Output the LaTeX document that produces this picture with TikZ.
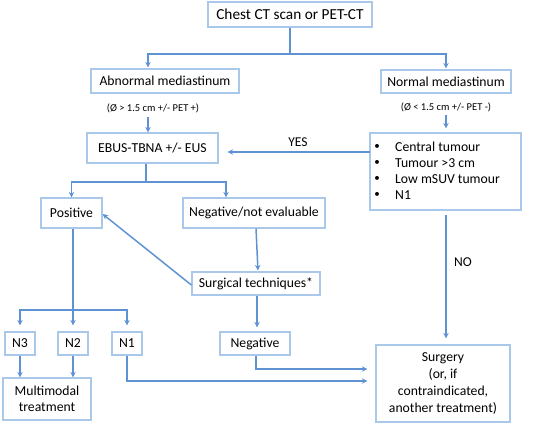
\documentclass[tikz,border=0pt]{standalone}
\usepackage{fontspec}
\setmainfont{Carlito}
\usetikzlibrary{arrows.meta}
\definecolor{boxc}{HTML}{A9C8EA}
\definecolor{arrc}{HTML}{5E92D2}
\begin{document}
\begin{tikzpicture}[x=1pt,y=-1pt,
  bx/.style={draw=boxc,line width=1.2pt,inner sep=0pt,align=center,font=\fontsize{13.7}{16.5}\selectfont},
  ln/.style={draw=arrc,line width=1.5pt},
  ar/.style={ln,-{Stealth[length=5.5pt,width=5.5pt]}},
  note/.style={font=\fontsize{10.5}{12}\selectfont,inner sep=0pt},
  lab/.style={font=\fontsize{13.5}{15}\selectfont,inner sep=0pt}]
\useasboundingbox (0,0) rectangle (553,424);
\node[bx,minimum width=164pt,minimum height=25pt,font=\fontsize{15.3}{18}\selectfont] (chest) at (290,14.5) {Chest CT scan or PET-CT};
\node[bx,minimum width=148pt,minimum height=24pt] (abn) at (165,81) {Abnormal mediastinum};
\node[bx,minimum width=130pt,minimum height=23pt] (norm) at (446,81.5) {Normal mediastinum};
\node[note] (abnnote) at (153,108) {(Ø > 1.5 cm +/- PET +)};
\node[note] (normnote) at (446,107) {(Ø < 1.5 cm +/- PET -)};
\node[bx,minimum width=131pt,minimum height=30pt] (ebus) at (152.5,148) {EBUS-TBNA +/- EUS};
\node[draw=boxc,line width=1.2pt,minimum width=151pt,minimum height=77pt,inner sep=0pt] (list) at (445.5,171.5) {};
\foreach \t [count=\i] in {Central tumour,Tumour >3 cm,Low mSUV tumour,N1}{
  \node[font=\fontsize{13.7}{16}\selectfont,anchor=west,inner sep=0pt] (li\i) at (395,131+16*\i) {\t};
  \node[font=\fontsize{11}{16}\selectfont,inner sep=0pt] (lb\i) at (377,131+16*\i) {•};
}
\node[bx,minimum width=61pt,minimum height=30pt] (pos) at (71.5,213) {Positive};
\node[bx,minimum width=142pt,minimum height=30pt] (neg) at (254,213) {Negative/not evaluable};
\node[bx,minimum width=128pt,minimum height=23pt] (surg) at (256,283.5) {Surgical techniques*};
\node[bx,minimum width=70pt,minimum height=23pt] (negv) at (255,343.5) {Negative};
\node[bx,minimum width=30pt,minimum height=23pt] (n3) at (20,343.5) {N3};
\node[bx,minimum width=30pt,minimum height=23pt] (n2) at (73,343.5) {N2};
\node[bx,minimum width=30pt,minimum height=23pt] (n1) at (127,343.5) {N1};
\node[bx,minimum width=88pt,minimum height=42pt,font=\fontsize{13.7}{16}\selectfont] (multi) at (47,399) {Multimodal\\treatment};
\node[bx,minimum width=134pt,minimum height=77pt,font=\fontsize{13.7}{16.7}\selectfont] (surgery) at (443,383.5) {Surgery\\(or, if\\contraindicated,\\another treatment)};
\node[lab] (yes) at (298,142) {YES};
\node[lab] (no) at (463,262) {NO};
% connectors
\coordinate (j1) at (290,54);
\draw[ln] (chest.south) -- (j1);
\draw[ar,shorten >=1pt] (j1) -| ([xshift=-17pt]abn.north);
\draw[ar,shorten >=1pt] (j1) -| (norm.north);
\coordinate (a1) at (148,117);
\draw[ar] (a1) -- (a1 |- ebus.north);
\coordinate (a2) at (446,115);
\draw[ar,shorten >=4pt] (a2) -- (a2 |- list.north);
\coordinate (y1) at (370,152);
\draw[ar,shorten >=9pt] (y1) -- (y1 -| ebus.east);
\coordinate (j2) at (146,182);
\draw[ln] (j2 |- ebus.south) -- (j2);
\draw[ar] (j2) -| (pos.north);
\draw[ar] (j2) -| ([xshift=-28pt]neg.north);
\coordinate (j3) at (73,310);
\draw[ln] (j3 |- pos.south) -- (j3);
\draw[ar,shorten >=6pt] (j3) -- (n2.north);
\draw[ar,shorten >=6pt] (j3) -| (n3.north);
\draw[ar,shorten >=6pt] (j3) -| (n1.north);
\draw[ar] ([yshift=-1.5pt]surg.west) -- ([yshift=-1pt]pos.east);
\draw[ar,shorten >=1pt] ([xshift=2pt]neg.south) -- ([xshift=2pt]surg.north);
\draw[ar,shorten >=4pt] ([xshift=1pt]surg.south) -- ([xshift=1pt]surg.south |- negv.north);
\draw[ar] (n3.south) -- (n3.south |- multi.north);
\draw[ar] (n2.south) -- (n2.south |- multi.north);
\coordinate (k1) at (256,369);
\draw[ar,shorten >=8pt] (k1 |- negv.south) -- (k1) -- (k1 -| surgery.west);
\coordinate (k2) at (127,381);
\draw[ar,shorten >=8pt] (n1.south) -- (k2) -- (k2 -| surgery.west);
\coordinate (nn) at (446,215);
\draw[ar,shorten >=6pt] (nn) -- (nn |- surgery.north);
\end{tikzpicture}
\end{document}
